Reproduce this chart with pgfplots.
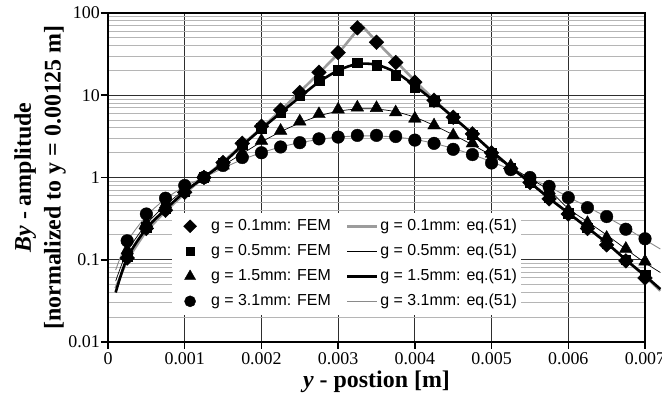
\documentclass[border=0pt]{standalone}
\usepackage{fontspec}
\setmainfont{Liberation Serif}
\newfontfamily\legfont{Liberation Sans}
\usepackage{pgfplots}
\pgfplotsset{compat=1.18}
\usetikzlibrary{calc}
\definecolor{majgrid}{HTML}{2E2E2E}
\definecolor{mingrid}{HTML}{B5B5B5}
\definecolor{lgray}{HTML}{9C9C9C}
\definecolor{tgray}{HTML}{8A8A8A}
\pgfplotsset{
 markleg/.style={legend image code/.code={\path[draw=none,fill=none] (-16bp,0bp) -- (19bp,0bp);\draw[##1,mark size=0.88*\pgfplotmarksize] plot coordinates {(0bp,0bp)};}},
 lineleg/.style={legend image code/.code={\path[draw=none,fill=none] (0bp,0bp) -- (31bp,0bp);\draw[##1] (0bp,0bp) -- (30bp,0bp);}},
 fdia/.style={only marks, mark=square*, mark size=5.2bp, mark options={rotate=45, fill=black, draw=black}},
 fsq/.style={only marks, mark=square*, mark size=4.8bp, mark options={fill=black, draw=black}},
 ftri/.style={only marks, mark=triangle*, mark size=7.3bp, mark options={fill=black, draw=black}},
 fcir/.style={only marks, mark=*, mark size=6.3bp, mark options={fill=black, draw=black}},
 e01/.style={no marks, line width=2.6bp, lgray},
 e05/.style={no marks, line width=0.7bp, black},
 e15/.style={no marks, line width=2.6bp, black},
 e31/.style={no marks, line width=0.9bp, tgray},
}
\begin{document}
\begin{tikzpicture}
\begin{axis}[
 scale only axis, width=537bp, height=329bp,
 xmin=0, xmax=0.007, ymin=0.01, ymax=100,
 ymode=log, clip=false,
 scaled x ticks=false,
 axis line style={line width=1.5bp, black},
 xtick={0,0.001,0.002,0.003,0.004,0.005,0.006,0.007},
 xticklabels={0,0.001,0.002,0.003,0.004,0.005,0.006,0.007},
 ytick={0.01,0.1,1,10,100},
 yticklabels={0.01,0.1,1,10,100},
 xmajorgrids, ymajorgrids, yminorgrids,
 major grid style={line width=1.2bp, majgrid},
 minor grid style={line width=1bp, mingrid},
 tick align=outside, major tick length=7bp, minor tick length=0pt,
 xtick pos=left, ytick pos=left,
 tick style={line width=1.5bp, black},
 ticklabel style={font=\fontsize{18}{20}\selectfont},
 yticklabel style={inner xsep=1bp},
 xticklabel style={inner ysep=3bp},
 xlabel={\textit{y} - postion [m]},
 xlabel style={font=\bfseries\fontsize{24}{28}\selectfont, at={(rel axis cs:0.5,-0.1368)}, anchor=base},
 ylabel={\textit{By} - amplitude\\{[}normalized to y = 0.00125 m{]}},
 ylabel style={font=\bfseries\fontsize{24}{30}\selectfont, align=center, at={(rel axis cs:-0.1266,0.5)}, anchor=center, rotate=0},
 legend columns=2,
 legend cell align=left,
 legend style={at={(rel axis cs:0.119,0.082)}, anchor=south west, draw=none, fill=white,
   inner xsep=2bp, inner ysep=1bp,
   font=\legfont\fontsize{16}{18}\selectfont,
   nodes={text height=11.5bp, text depth=3.5bp, inner ysep=5bp, inner xsep=2bp},
   /tikz/every odd column/.append style={column sep=0bp},
   /tikz/every even column/.append style={column sep=13bp}},
]
\coordinate (ll) at (rel axis cs:0,0);
\coordinate (ur) at (rel axis cs:1,1);

\addlegendimage{fdia, markleg}\addlegendentry{g = 0.1mm: FEM}
\addlegendimage{e01, lineleg}\addlegendentry{g = 0.1mm: eq.(51)}
\addlegendimage{fsq, markleg}\addlegendentry{g = 0.5mm: FEM}
\addlegendimage{e05, lineleg}\addlegendentry{g = 0.5mm: eq.(51)}
\addlegendimage{ftri, markleg}\addlegendentry{g = 1.5mm: FEM}
\addlegendimage{e15, lineleg}\addlegendentry{g = 1.5mm: eq.(51)}
\addlegendimage{fcir, markleg}\addlegendentry{g = 3.1mm: FEM}
\addlegendimage{e31, lineleg}\addlegendentry{g = 3.1mm: eq.(51)}

% eq.(51) curves
\addplot[e31, smooth, forget plot] coordinates {
(0.0001,0.075) (0.00025,0.165) (0.0005,0.34) (0.00075,0.55) (0.001,0.78) (0.00125,1)
(0.0015,1.3) (0.00175,1.65) (0.002,2.0) (0.00225,2.35) (0.0025,2.65) (0.00275,2.9)
(0.003,3.1) (0.00325,3.2) (0.0035,3.2) (0.00375,3.1) (0.004,2.9) (0.00425,2.6)
(0.0045,2.25) (0.00475,1.9) (0.005,1.55) (0.00525,1.25) (0.0055,0.98) (0.00575,0.77)
(0.006,0.58) (0.00625,0.44) (0.0065,0.33) (0.00675,0.245) (0.007,0.175) (0.0072,0.135)};
\addplot[e05, smooth, forget plot] coordinates {
(0.0001,0.055) (0.00025,0.125) (0.0005,0.27) (0.00075,0.46) (0.001,0.71) (0.00125,1)
(0.0015,1.4) (0.00175,1.95) (0.002,2.7) (0.00225,3.6) (0.0025,4.6) (0.00275,5.6)
(0.003,6.4) (0.00325,6.8) (0.0035,6.8) (0.00375,6.3) (0.004,5.4) (0.00425,4.3)
(0.0045,3.3) (0.00475,2.5) (0.005,1.85) (0.00525,1.35) (0.0055,0.97) (0.00575,0.7)
(0.006,0.42) (0.00625,0.29) (0.0065,0.2) (0.00675,0.135) (0.007,0.092) (0.0072,0.07)};
\addplot[e01, forget plot] coordinates {
(0.0001,0.045) (0.00025,0.1) (0.0005,0.225) (0.00075,0.39) (0.001,0.64) (0.00125,1)
(0.0015,1.55) (0.00175,2.5) (0.002,4.0) (0.00225,6.5) (0.0025,11) (0.00275,18.5)
(0.003,32) (0.00325,62) (0.0033,72) (0.0035,45) (0.00375,26) (0.004,15) (0.00425,8.8)
(0.0045,5.4) (0.00475,3.4) (0.005,2.1) (0.00525,1.33) (0.0055,0.87) (0.00575,0.56)
(0.006,0.37) (0.00625,0.245) (0.0065,0.16) (0.00675,0.1) (0.007,0.063) (0.0072,0.042)};
\addplot[e15, smooth, forget plot] coordinates {
(0.0001,0.04) (0.00025,0.105) (0.0005,0.24) (0.00075,0.41) (0.001,0.67) (0.00125,1)
(0.0015,1.5) (0.00175,2.45) (0.002,3.9) (0.00225,6.1) (0.0025,9.5) (0.00275,14.5)
(0.003,20) (0.00325,24) (0.0035,23.5) (0.00375,19) (0.004,13) (0.00425,8.5)
(0.0045,5.4) (0.00475,3.4) (0.005,2.1) (0.00525,1.33) (0.0055,0.87) (0.00575,0.56)
(0.006,0.37) (0.00625,0.245) (0.0065,0.16) (0.00675,0.1) (0.007,0.064) (0.0072,0.044)};

% FEM points
\addplot[fcir, forget plot] coordinates {
(0.00025,0.17) (0.0005,0.36) (0.00075,0.56) (0.001,0.8) (0.00125,1) (0.0015,1.4)
(0.00175,1.75) (0.002,2.0) (0.00225,2.35) (0.0025,2.65) (0.00275,2.95) (0.003,3.1)
(0.00325,3.25) (0.0035,3.25) (0.00375,3.15) (0.004,2.85) (0.00425,2.6) (0.0045,2.2)
(0.00475,1.9) (0.005,1.5) (0.00525,1.25) (0.0055,1.0) (0.00575,0.78) (0.006,0.57)
(0.00625,0.43) (0.0065,0.335) (0.00675,0.235) (0.007,0.18)};
\addplot[ftri, forget plot] coordinates {
(0.00025,0.13) (0.0005,0.28) (0.00075,0.47) (0.001,0.72) (0.00125,1) (0.0015,1.4)
(0.00175,2.0) (0.002,2.8) (0.00225,3.7) (0.0025,4.8) (0.00275,5.9) (0.003,6.7)
(0.00325,7.1) (0.0035,7.0) (0.00375,6.2) (0.004,5.2) (0.00425,4.3) (0.0045,3.25)
(0.00475,2.6) (0.005,1.95) (0.00525,1.38) (0.0055,0.97) (0.00575,0.7) (0.006,0.4)
(0.00625,0.28) (0.0065,0.185) (0.00675,0.136) (0.007,0.095)};
\addplot[fsq, forget plot] coordinates {
(0.00025,0.11) (0.0005,0.25) (0.00075,0.42) (0.001,0.68) (0.00125,1) (0.0015,1.5)
(0.00175,2.5) (0.002,4.0) (0.00225,6.2) (0.0025,10) (0.00275,15) (0.003,20)
(0.00325,25) (0.0035,23.3) (0.00375,17.5) (0.004,12.5) (0.00425,8.5) (0.0045,5.3)
(0.00475,3.3) (0.005,2.0) (0.00525,1.3) (0.0055,0.88) (0.00575,0.57) (0.006,0.37)
(0.00625,0.245) (0.0065,0.16) (0.00675,0.1) (0.007,0.065)};
\addplot[fdia, forget plot] coordinates {
(0.00025,0.105) (0.0005,0.24) (0.00075,0.40) (0.001,0.66) (0.00125,1) (0.0015,1.52)
(0.00175,2.6) (0.002,4.2) (0.00225,6.6) (0.0025,10.8) (0.00275,19) (0.003,33)
(0.00325,66) (0.0035,44) (0.00375,25) (0.004,14.4) (0.00425,8.7) (0.0045,5.4)
(0.00475,3.4) (0.005,2.0) (0.00525,1.29) (0.0055,0.87) (0.00575,0.55) (0.006,0.36)
(0.00625,0.24) (0.0065,0.152) (0.00675,0.097) (0.007,0.06)};
\end{axis}
\pgfresetboundingbox
\path ($(ll)+(-108bp,-55bp)$) rectangle ($(ur)+(17bp,13bp)$);
\end{tikzpicture}
\end{document}
